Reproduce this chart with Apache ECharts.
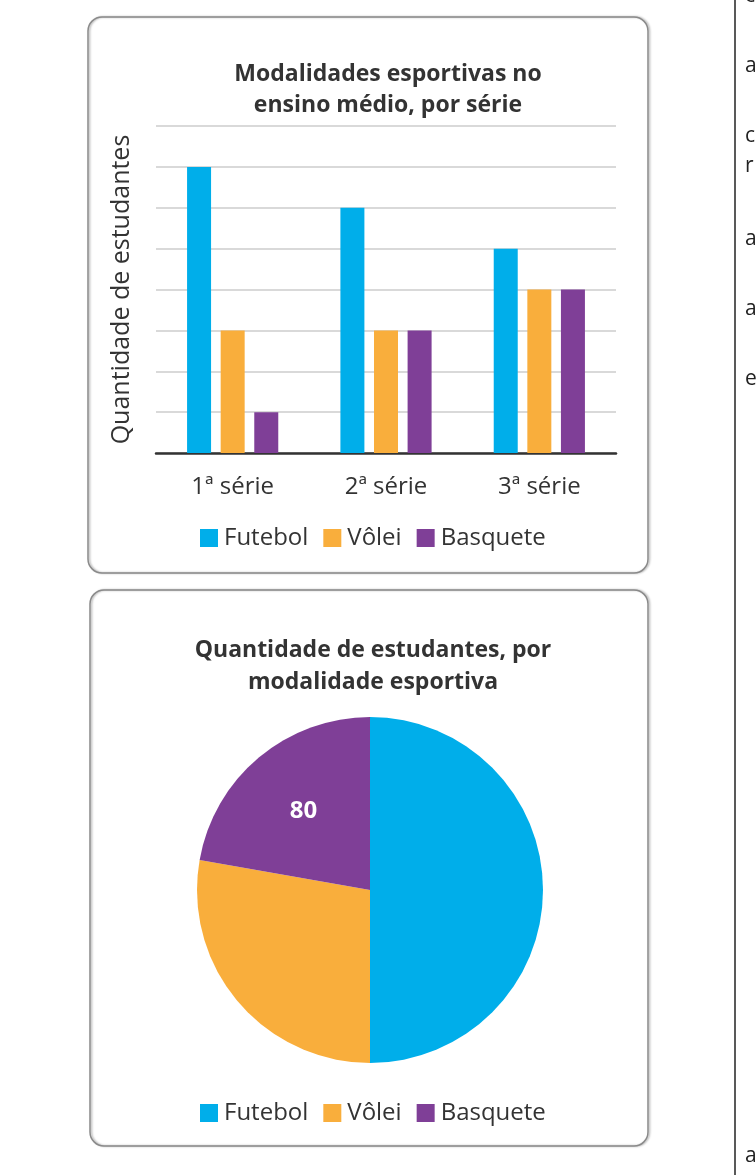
<!DOCTYPE html>
<html>
<head>
<meta charset="utf-8">
<title>Modalidades esportivas</title>
<script src="https://cdn.jsdelivr.net/npm/echarts@6/dist/echarts.min.js"></script>
<style>
  html, body { margin: 0; padding: 0; background: #fff; }
  #chart { width: 756px; height: 1175px; }
</style>
</head>
<body>
<div id="chart"></div>
<script>
// dados
var series_names = ['Futebol', 'Vôlei', 'Basquete']
var categories = ['1ª série', '2ª série', '3ª série']
var futebol = [70, 60, 50]
var volei = [30, 30, 40]
var basquete = [10, 30, 40]
var pie_values = [180, 100, 80]
var colors = ['#00AEEA', '#F9AE3C', '#7F3F97']

var font = 'Open Sans'
var textColor = '#333'

var myChart = echarts.init(document.getElementById('chart'))

var legendData = series_names.map(function (n, i) {
  return { name: n, itemStyle: { color: colors[i] } }
})

var pieData = series_names.map(function (n, i) {
  return { name: n, value: pie_values[i], itemStyle: { color: colors[i] } }
})

// só o rótulo do basquete aparece no gráfico de setores
var pieLabelData = series_names.map(function (n, i) {
  return {
    name: n,
    value: pie_values[i],
    label: { show: n === 'Basquete' }
  }
})

var barSeries = [futebol, volei, basquete].map(function (vals, i) {
  return {
    name: series_names[i],
    type: 'bar',
    data: vals,
    barWidth: 24,
    barGap: '40%',
    itemStyle: { color: colors[i] },
    silent: true
  }
})

var legendBase = {
  data: legendData,
  left: 195,
  icon: 'rect',
  itemWidth: 18,
  itemHeight: 18,
  itemGap: 15,
  selectedMode: false,
  textStyle: { fontFamily: font, fontSize: 24, color: textColor, padding: [0, 0, 0, 1] }
}

var option = {
  backgroundColor: '#fff',
  animation: false,
  textStyle: { fontFamily: font, color: textColor },
  title: [
    {
      text: 'Modalidades esportivas no\nensino médio, por série',
      left: 383,
      top: 54,
      textAlign: 'center',
      textStyle: { fontFamily: font, fontSize: 23, fontWeight: 'bold', color: textColor, lineHeight: 31 }
    },
    {
      text: 'Quantidade de estudantes, por\nmodalidade esportiva',
      left: 368,
      top: 629,
      textAlign: 'center',
      textStyle: { fontFamily: font, fontSize: 23, fontWeight: 'bold', color: textColor, lineHeight: 32 }
    }
  ],
  legend: [
    Object.assign({}, legendBase, { top: 521 }),
    Object.assign({}, legendBase, { top: 1096 })
  ],
  grid: { left: 156, top: 126, width: 460, height: 327 },
  xAxis: {
    type: 'category',
    data: categories,
    axisLine: { lineStyle: { color: '#333', width: 2.5 } },
    axisTick: { show: false },
    axisLabel: { fontFamily: font, fontSize: 24, color: textColor, margin: 22 }
  },
  yAxis: {
    type: 'value',
    min: 0,
    max: 80,
    interval: 10,
    name: 'Quantidade de estudantes',
    nameLocation: 'middle',
    nameRotate: 90,
    nameGap: 22,
    nameTextStyle: { fontFamily: font, fontSize: 25, color: textColor },
    axisLine: { show: false },
    axisTick: { show: false },
    axisLabel: { show: false },
    splitLine: { lineStyle: { color: '#cdcdcd', width: 1.5 } }
  },
  series: barSeries.concat([
    {
      name: 'Estudantes',
      type: 'pie',
      center: [370, 890],
      radius: [0, 173],
      startAngle: 90,
      clockwise: true,
      label: { show: false },
      labelLine: { show: false },
      silent: true,
      data: pieData
    },
    {
      // camada transparente só para posicionar o rótulo "80"
      name: 'Rotulo',
      type: 'pie',
      center: [370, 890],
      radius: [28, 173],
      startAngle: 90,
      clockwise: true,
      silent: true,
      itemStyle: { color: 'rgba(0,0,0,0)' },
      label: {
        show: false,
        position: 'inside',
        formatter: '{c}',
        fontFamily: font,
        fontSize: 24,
        fontWeight: 'bold',
        color: '#fff'
      },
      labelLine: { show: false },
      data: pieLabelData
    }
  ]),
  graphic: [
    {
      type: 'rect',
      shape: { x: 88, y: 17, width: 560, height: 556, r: 14 },
      style: { fill: 'none', stroke: '#8a8a8a', lineWidth: 1.5, shadowColor: 'rgba(0,0,0,0.3)', shadowBlur: 2, shadowOffsetX: 1.5 },
      silent: true
    },
    {
      type: 'rect',
      shape: { x: 90, y: 590, width: 558, height: 556, r: 14 },
      style: { fill: 'none', stroke: '#8a8a8a', lineWidth: 1.5, shadowColor: 'rgba(0,0,0,0.3)', shadowBlur: 2, shadowOffsetX: 1.5 },
      silent: true
    },
    {
      type: 'line',
      shape: { x1: 735, y1: 0, x2: 735, y2: 1175 },
      style: { stroke: '#222', lineWidth: 1.5 },
      silent: true
    },
    // letras cortadas da coluna ao lado
    { type: 'text', x: 745, y: -14, style: { text: 'c', fontFamily: font, fontSize: 21, fill: '#222' } },
    { type: 'text', x: 745, y: 56, style: { text: 'a', fontFamily: font, fontSize: 21, fill: '#222' } },
    { type: 'text', x: 745, y: 126, style: { text: 'c', fontFamily: font, fontSize: 21, fill: '#222' } },
    { type: 'text', x: 745, y: 156, style: { text: 'r', fontFamily: font, fontSize: 21, fill: '#222' } },
    { type: 'text', x: 745, y: 229, style: { text: 'a', fontFamily: font, fontSize: 21, fill: '#222' } },
    { type: 'text', x: 745, y: 299, style: { text: 'a', fontFamily: font, fontSize: 21, fill: '#222' } },
    { type: 'text', x: 745, y: 369, style: { text: 'e', fontFamily: font, fontSize: 21, fill: '#222' } },
    { type: 'text', x: 745, y: 1146, style: { text: 'a', fontFamily: font, fontSize: 21, fill: '#222' } }
  ]
}

myChart.setOption(option)
</script>
</body>
</html>
